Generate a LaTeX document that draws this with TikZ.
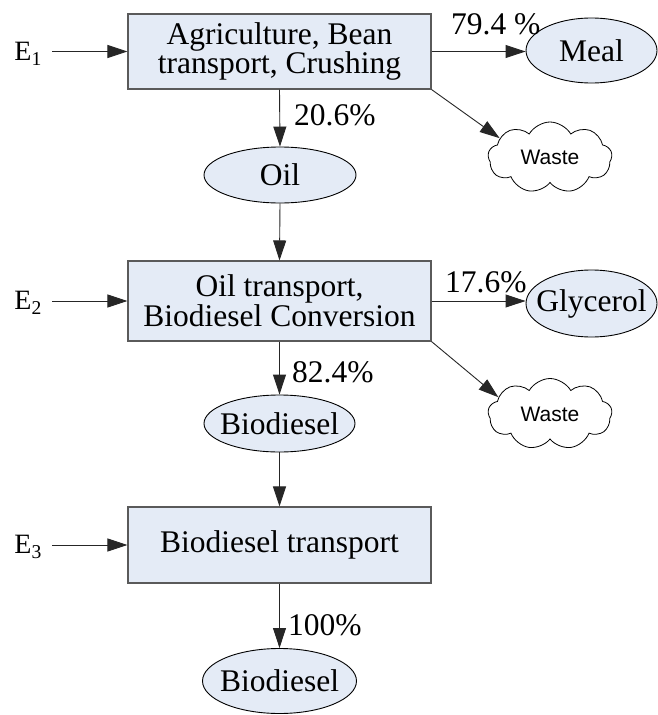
\documentclass[tikz,border=0pt]{standalone}
\usepackage{fontspec}
\setmainfont{Liberation Serif}
\newfontfamily\wastefont{Liberation Sans}
\usetikzlibrary{arrows.meta,shapes.geometric,shapes.symbols}
\definecolor{boxfill}{RGB}{228,235,246}
\definecolor{boxline}{RGB}{90,90,90}
\begin{document}
\begin{tikzpicture}[x=1pt,y=-1pt,
  proc/.style={draw=boxline, line width=1.1pt, fill=boxfill, minimum width=303pt,
    inner sep=0pt, align=center, font=\fontsize{31.5}{28}\selectfont},
  prod/.style={ellipse, draw=black, line width=0.9pt, fill=boxfill, inner sep=0pt,
    font=\fontsize{31.5}{28}\selectfont},
  waste/.style={cloud, cloud puffs=9, cloud puff arc=120, cloud ignores aspect,
    draw=black, line width=0.8pt, fill=white, minimum width=124pt, minimum height=71pt,
    inner sep=0pt, font=\wastefont\fontsize{21}{24}\selectfont},
  arr/.style={draw=black!85, line width=0.9pt, -{Triangle[length=20pt,width=13pt]}},
  lab/.style={inner sep=0pt, anchor=west, font=\fontsize{31.5}{28}\selectfont},
  elab/.style={inner sep=0pt, inner xsep=10pt, anchor=east, font=\fontsize{28}{30}\selectfont}]
\useasboundingbox (0,0) rectangle (658,715);

% process boxes
\node[proc, minimum height=75pt] (b1) at (279.5,51.5) {Agriculture, Bean\\transport, Crushing};
\node[proc, minimum height=80pt] (b2) at (279.5,301) {Oil transport,\\Biodiesel Conversion};
\node[proc, minimum height=76pt] (b3) at (279.5,545) {Biodiesel transport};

% products
\node[prod, minimum width=131pt, minimum height=65pt] (meal) at (591.5,50.5) {\makebox[0pt]{Meal}};
\node[prod, minimum width=152pt, minimum height=56pt] (oil) at (280,175) {\makebox[0pt]{Oil}};
\node[prod, minimum width=131pt, minimum height=67pt] (gly) at (591.5,303.5) {\makebox[0pt]{Glycerol}};
\node[prod, minimum width=151pt, minimum height=57pt] (bd1) at (279.5,423.5) {\makebox[0pt]{Biodiesel}};
\node[prod, minimum width=154pt, minimum height=65pt] (bd2) at (279.5,681) {\makebox[0pt]{Biodiesel}};

% waste clouds
\node[waste] (w1) at (550,157.5) {\makebox[0pt]{Waste}};
\node[waste] (w2) at (550,414) {\makebox[0pt]{Waste}};

% energy inputs
\node[elab] (e1) at (52,54) {E\textsubscript{1}};
\node[elab] (e2) at (52,303) {E\textsubscript{2}};
\node[elab] (e3) at (52,547) {E\textsubscript{3}};

% labels
\node[lab] (l1) at (451,24) {79.4 \%};
\node[lab] (l2) at (294,115) {20.6\%};
\node[lab] (l3) at (445,282.5) {17.6\%};
\node[lab] (l4) at (292,372) {82.4\%};
\node[lab] (l5) at (288,625) {100\%};

% connectors
\draw[arr] (e1.east |- b1.west) -- (b1.west);
\draw[arr] (b1.east) -- (b1.east -| meal.west);
\draw[arr] (b1.south) -- (oil.north);
\draw[arr] (b1.south east) -- (w1.159);
\draw[arr] (oil.south) -- (b2.north);
\draw[arr] (e2.east |- b2.west) -- (b2.west);
\draw[arr] (b2.east) -- (b2.east -| gly.west);
\draw[arr] (b2.south) -- (bd1.north);
\draw[arr] (b2.south east) -- (w2.162);
\draw[arr] (bd1.south) -- (b3.north);
\draw[arr] (e3.east |- b3.west) -- (b3.west);
\draw[arr] (b3.south) -- (bd2.north);
\end{tikzpicture}
\end{document}
